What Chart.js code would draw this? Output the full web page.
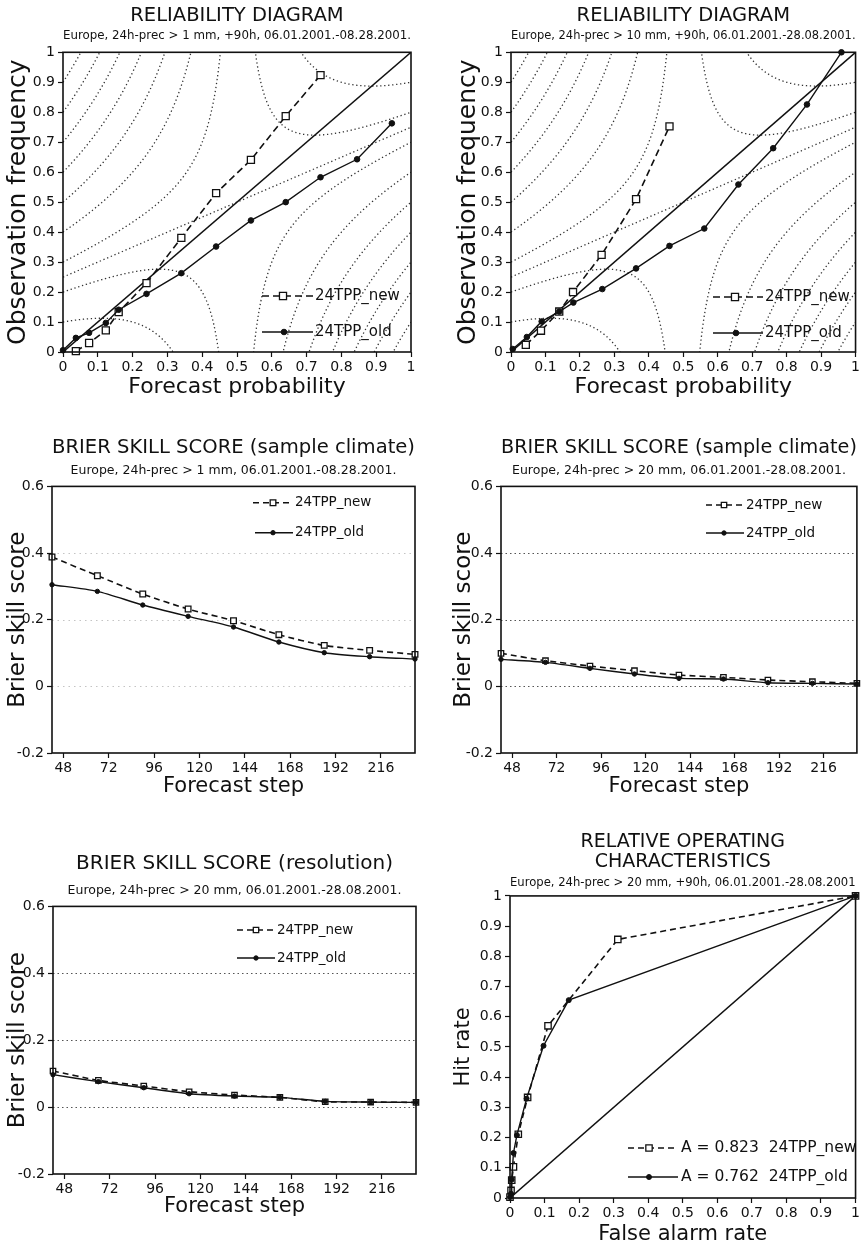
<!DOCTYPE html>
<html><head><meta charset="utf-8">
<script src="https://cdn.jsdelivr.net/npm/chart.js@4.4.1/dist/chart.umd.min.js"></script>
<style>
html,body{margin:0;padding:0;background:#fff;overflow:hidden;}
#wrap{position:relative;width:862px;height:1245px;background:#fff;}
canvas{position:absolute;}
</style></head><body><div id="wrap">
<canvas id="c1" width="431" height="400" style="left:0;top:0"></canvas>
<canvas id="c2" width="431" height="400" style="left:431px;top:0"></canvas>
<canvas id="c3" width="431" height="390" style="left:0;top:415px"></canvas>
<canvas id="c4" width="431" height="390" style="left:431px;top:415px"></canvas>
<canvas id="c5" width="431" height="420" style="left:0;top:825px"></canvas>
<canvas id="c6" width="431" height="420" style="left:431px;top:825px"></canvas>
</div>
<script>
// ---------- DATA ----------
const probTicks = [0,0.1,0.2,0.3,0.4,0.5,0.6,0.7,0.8,0.9,1];
const probTickLabels = ['0','0.1','0.2','0.3','0.4','0.5','0.6','0.7','0.8','0.9','1'];
const diagonal = [0, 1];

// Reliability, > 1 mm
const rel1ProbNew = [0.037,0.075,0.123,0.16,0.24,0.34,0.44,0.54,0.64,0.74];
const rel1FreqNew = [0.003,0.03,0.072,0.133,0.23,0.381,0.53,0.641,0.787,0.924];
const rel1ProbOld = [0,0.037,0.075,0.123,0.16,0.24,0.34,0.44,0.54,0.64,0.74,0.845,0.945];
const rel1FreqOld = [0.006,0.047,0.064,0.097,0.141,0.194,0.263,0.352,0.439,0.5,0.583,0.643,0.763];

// Reliability, > 10 mm
const rel2ProbNew = [0.043,0.087,0.14,0.18,0.263,0.363,0.46];
const rel2FreqNew = [0.024,0.071,0.135,0.2,0.324,0.51,0.753];
const rel2ProbOld = [0.005,0.046,0.089,0.14,0.181,0.265,0.363,0.46,0.561,0.66,0.761,0.859,0.959];
const rel2FreqOld = [0.01,0.05,0.102,0.135,0.165,0.21,0.279,0.354,0.412,0.559,0.68,0.826,1.0];

// reference isopleths of the reliability diagrams
const isoClimate = 0.5;
const isoLevels = [-0.65,-0.55,-0.45,-0.35,-0.25,-0.15,-0.05,0.05,0.15];

// Brier skill score
const forecastSteps = [42,66,90,114,138,162,186,210,234];
const stepTicks = [48,72,96,120,144,168,192,216];
const stepTickLabels = ['48','72','96','120','144','168','192','216'];
const bssTicks = [-0.2,0,0.2,0.4,0.6];
const bssTickLabels = ['-0.2','0','0.2','0.4','0.6'];
const bssGridValues = [0,0.2,0.4];

const bss1New = [0.388,0.332,0.277,0.232,0.197,0.155,0.123,0.108,0.096];
const bss1Old = [0.305,0.285,0.244,0.21,0.178,0.133,0.101,0.089,0.082];
const bss20New = [0.099,0.077,0.061,0.047,0.034,0.027,0.019,0.014,0.009];
const bss20Old = [0.081,0.072,0.054,0.037,0.024,0.022,0.011,0.009,0.007];
const bssResNew = [0.108,0.080,0.063,0.046,0.036,0.029,0.016,0.015,0.014];
const bssResOld = [0.097,0.076,0.058,0.040,0.033,0.029,0.017,0.015,0.014];

// ROC
const rocFarNew = [0,0.003,0.005,0.01,0.024,0.051,0.11,0.312,1];
const rocHitNew = [0.003,0.025,0.059,0.103,0.211,0.333,0.57,0.856,1];
const rocFarOld = [0,0.003,0.005,0.01,0.02,0.048,0.097,0.17,1];
const rocHitOld = [0.003,0.014,0.061,0.149,0.208,0.329,0.504,0.655,1];

const labelNew = '24TPP_new';
const labelOld = '24TPP_old';
const rocLabelNew = 'A = 0.823  24TPP_new';
const rocLabelOld = 'A = 0.762  24TPP_old';

// ---------- HELPERS ----------
Chart.defaults.font.family = "'DejaVu Sans', sans-serif";
Chart.defaults.color = '#000';
const INK = '#111';

const pts = (xs, ys) => xs.map((x, i) => ({x: x, y: ys[i]}));

const framePlugin = {
  id: 'frame',
  afterDatasetsDraw(chart) {
    const {ctx, chartArea: c} = chart;
    ctx.save(); ctx.setLineDash([]); ctx.strokeStyle = INK; ctx.lineWidth = 1.6;
    ctx.strokeRect(c.left, c.top, c.right - c.left, c.bottom - c.top);
    ctx.restore();
  }
};

const hLinesPlugin = {
  id: 'hLines',
  beforeDatasetsDraw(chart, args, o) {
    if (!o || !o.values) return;
    const {ctx, chartArea: c, scales: {y}} = chart;
    ctx.save(); ctx.strokeStyle = o.color; ctx.lineWidth = o.width; ctx.setLineDash(o.dash);
    for (const v of o.values) {
      const py = Math.round(y.getPixelForValue(v)) + 0.5;
      ctx.beginPath(); ctx.moveTo(c.left, py); ctx.lineTo(c.right, py); ctx.stroke();
    }
    ctx.restore();
  }
};

const isoPlugin = {
  id: 'iso',
  beforeDatasetsDraw(chart, args, o) {
    if (!o || !o.levels) return;
    const {ctx, chartArea: a, scales: {x, y}} = chart;
    const c = o.climate;
    ctx.save();
    ctx.beginPath(); ctx.rect(a.left, a.top, a.right - a.left, a.bottom - a.top); ctx.clip();
    ctx.strokeStyle = o.color; ctx.lineWidth = o.width; ctx.setLineDash(o.dash);
    const n = 600;
    for (const g of o.levels) {
      for (const side of [-1, 1]) {
        ctx.beginPath();
        let started = false;
        for (let i = 0; i <= n; i++) {
          const p = side < 0 ? c * i / n : c + (1 - c) * i / n;
          if (Math.abs(p - c) < 1e-9) { started = false; continue; }
          const ob = (p + c) / 2 + g / (2 * (p - c));
          if (ob < -0.3 || ob > 1.3) { started = false; continue; }
          const px = x.getPixelForValue(p), py = y.getPixelForValue(ob);
          if (!started) { ctx.moveTo(px, py); started = true; } else ctx.lineTo(px, py);
        }
        ctx.stroke();
      }
    }
    // no-skill line
    ctx.beginPath();
    ctx.moveTo(x.getPixelForValue(0), y.getPixelForValue(c / 2));
    ctx.lineTo(x.getPixelForValue(1), y.getPixelForValue((1 + c) / 2));
    ctx.stroke();
    ctx.restore();
  }
};

function drawMarker(ctx, ds, x, y) {
  ctx.save(); ctx.setLineDash([]);
  ctx.fillStyle = ds.pointBackgroundColor; ctx.strokeStyle = ds.pointBorderColor;
  ctx.lineWidth = ds.pointBorderWidth;
  const r = ds.pointRadius;
  ctx.beginPath();
  if (ds.pointStyle === 'rect') { const s = r * Math.SQRT1_2; ctx.rect(x - s, y - s, 2 * s, 2 * s); }
  else ctx.arc(x, y, r, 0, Math.PI * 2);
  ctx.fill(); ctx.stroke();
  ctx.restore();
}

const legendPlugin = {
  id: 'innerLegend',
  afterDatasetsDraw(chart, args, o) {
    if (!o || !o.items) return;
    const ctx = chart.ctx;
    ctx.save();
    for (const it of o.items) {
      const ds = chart.data.datasets[it.ds];
      ctx.strokeStyle = ds.borderColor; ctx.lineWidth = ds.borderWidth;
      ctx.setLineDash(ds.borderDash || []);
      ctx.beginPath(); ctx.moveTo(it.x0, it.y); ctx.lineTo(it.x1, it.y); ctx.stroke();
      drawMarker(ctx, ds, it.xm, it.y);
      ctx.setLineDash([]);
      ctx.fillStyle = INK; ctx.font = o.font; ctx.textBaseline = 'middle'; ctx.textAlign = 'left';
      ctx.fillText(ds.label, it.tx, it.y);
    }
    ctx.restore();
  }
};

function xAxis(o) {
  return {
    type: 'linear', position: 'bottom', min: o.min, max: o.max,
    afterBuildTicks: s => { s.ticks = o.values.map(v => ({value: v})); },
    afterFit: s => { s.height = o.height; },
    ticks: {autoSkip: false, maxRotation: 0, minRotation: 0, padding: 2, font: {size: 14}, color: INK,
      callback: (v, i) => o.labels[i]},
    grid: {drawOnChartArea: false, drawTicks: true, tickLength: 5, tickColor: INK, tickWidth: 1.2},
    border: {display: false},
    title: {display: true, text: o.title, color: INK,
      font: {size: o.titleSize, lineHeight: o.titleLH || 1.2}, padding: {top: 0, bottom: o.titlePad}}
  };
}
function yAxis(o) {
  return {
    type: 'linear', position: 'left', min: o.min, max: o.max,
    afterBuildTicks: s => { s.ticks = o.values.map(v => ({value: v})); },
    afterFit: s => { s.width = o.width; },
    ticks: {autoSkip: false, padding: 3, font: {size: 14}, color: INK,
      callback: (v, i) => o.labels[i]},
    grid: {drawOnChartArea: false, drawTicks: true, tickLength: 5, tickColor: INK, tickWidth: 1.2},
    border: {display: false},
    title: {display: true, text: o.title, color: INK,
      font: {size: o.titleSize, lineHeight: 1.2}, padding: {top: o.titlePad, bottom: 0}}
  };
}

function newDs(label, data, o) {
  return {label: label, data: data, showLine: true, borderColor: INK, borderWidth: o.lw || 1.6,
    borderDash: o.dash || [7, 4], pointStyle: 'rect', pointRadius: o.r, pointHoverRadius: o.r,
    pointBackgroundColor: '#fff', pointBorderColor: INK, pointBorderWidth: 1.3,
    tension: o.tension || 0, fill: false, clip: 6, order: 1};
}
function oldDs(label, data, o) {
  return {label: label, data: data, showLine: true, borderColor: INK, borderWidth: o.lw || 1.4,
    borderDash: [], pointStyle: 'circle', pointRadius: o.r, pointHoverRadius: o.r,
    pointBackgroundColor: INK, pointBorderColor: INK, pointBorderWidth: 1,
    tension: o.tension || 0, fill: false, clip: 6, order: 0};
}
function diagDs() {
  return {label: 'diag', data: pts(diagonal, diagonal), showLine: true, borderColor: INK,
    borderWidth: 1.5, pointRadius: 0, pointHoverRadius: 0, fill: false, order: 2};
}

function titleOpts(text, size, pt, pb, lh) {
  return {display: true, text: text, color: INK, fullSize: false,
    font: {size: size, weight: 'normal', lineHeight: lh || 1.2}, padding: {top: pt, bottom: pb}};
}
function subOpts(text, pt, pb) {
  return {display: true, text: text, color: INK, fullSize: false,
    font: {size: 12.5, lineHeight: 1.2}, padding: {top: pt, bottom: pb}};
}

function make(id, cfg) {
  return new Chart(document.getElementById(id), {
    type: 'scatter',
    data: {datasets: cfg.datasets},
    options: {
      responsive: false, animation: false, devicePixelRatio: 1,
      layout: {padding: cfg.padding},
      scales: {x: cfg.x, y: cfg.y},
      plugins: {
        legend: {display: false}, tooltip: {enabled: false},
        title: cfg.title, subtitle: cfg.subtitle,
        iso: cfg.iso || {}, hLines: cfg.hLines || {}, innerLegend: cfg.legend
      }
    },
    plugins: [isoPlugin, hLinesPlugin, framePlugin, legendPlugin]
  });
}

const isoCfg = {levels: isoLevels, climate: isoClimate, color: '#333', width: 1.3, dash: [1.3, 2.7]};

// ---------- PANEL 1 ----------
make('c1', {
  padding: {left: 0, right: 20, top: 0, bottom: 0},
  title: titleOpts('RELIABILITY DIAGRAM', 19.5, 4.5, 0.2),
  subtitle: subOpts('Europe, 24h-prec > 1 mm, +90h, 06.01.2001.-08.28.2001.', 0, 9.2),
  x: xAxis({min: 0, max: 1, values: probTicks, labels: probTickLabels, height: 48,
    title: 'Forecast probability', titleSize: 22, titlePad: 0}),
  y: yAxis({min: 0, max: 1, values: probTicks, labels: probTickLabels, width: 63,
    title: 'Observation frequency', titleSize: 25, titlePad: 3}),
  iso: isoCfg,
  datasets: [diagDs(),
    newDs(labelNew, pts(rel1ProbNew, rel1FreqNew), {r: 5, dash: [7, 4]}),
    oldDs(labelOld, pts(rel1ProbOld, rel1FreqOld), {r: 2.8})],
  legend: {font: '15px "DejaVu Sans"', items: [
    {ds: 1, y: 296, x0: 262, x1: 313, xm: 283, tx: 315},
    {ds: 2, y: 332, x0: 262, x1: 313, xm: 284, tx: 315}]}
});

// ---------- PANEL 2 ----------
make('c2', {
  padding: {left: 0, right: 5, top: 0, bottom: 0},
  title: titleOpts('RELIABILITY DIAGRAM', 19.5, 4.5, 0.2),
  subtitle: subOpts('Europe, 24h-prec > 10 mm, +90h, 06.01.2001.-28.08.2001.', 0, 9.2),
  x: xAxis({min: 0, max: 1, values: probTicks, labels: probTickLabels, height: 48,
    title: 'Forecast probability', titleSize: 22, titlePad: 0}),
  y: yAxis({min: 0, max: 1, values: probTicks, labels: probTickLabels, width: 80,
    title: 'Observation frequency', titleSize: 25, titlePad: 22}),
  iso: isoCfg,
  datasets: [diagDs(),
    newDs(labelNew, pts(rel2ProbNew, rel2FreqNew), {r: 5, dash: [7, 4]}),
    oldDs(labelOld, pts(rel2ProbOld, rel2FreqOld), {r: 2.8})],
  legend: {font: '15px "DejaVu Sans"', items: [
    {ds: 1, y: 297, x0: 282, x1: 332, xm: 304, tx: 334},
    {ds: 2, y: 333, x0: 282, x1: 332, xm: 305, tx: 334}]}
});

// ---------- PANEL 3 ----------
make('c3', {
  padding: {left: 0, right: 16, top: 0, bottom: 0},
  title: titleOpts('BRIER SKILL SCORE (sample climate)', 20, 20.5, 3.7),
  subtitle: subOpts('Europe, 24h-prec > 1 mm, 06.01.2001.-08.28.2001.', 0, 8.2),
  x: xAxis({min: 42, max: 234, values: stepTicks, labels: stepTickLabels, height: 52,
    title: 'Forecast step', titleSize: 21, titlePad: 5.4}),
  y: yAxis({min: -0.2, max: 0.6, values: bssTicks, labels: bssTickLabels, width: 52,
    title: 'Brier skill score', titleSize: 23, titlePad: 4.2}),
  hLines: {values: bssGridValues, color: '#c4c4c4', width: 1.2, dash: [1.5, 4]},
  datasets: [
    newDs(labelNew, pts(forecastSteps, bss1New), {r: 4, dash: [6, 4], tension: 0.25}),
    oldDs(labelOld, pts(forecastSteps, bss1Old), {r: 2.2, tension: 0.25})],
  legend: {font: '13.5px "DejaVu Sans"', items: [
    {ds: 0, y: 87.7, x0: 253, x1: 293, xm: 273, tx: 295},
    {ds: 1, y: 117.7, x0: 255, x1: 293, xm: 273, tx: 295}]}
});

// ---------- PANEL 4 ----------
make('c4', {
  padding: {left: 0, right: 2, top: 0, bottom: 0},
  title: titleOpts('BRIER SKILL SCORE (sample climate)', 20, 20.5, 3.7),
  subtitle: subOpts('Europe, 24h-prec > 20 mm, 06.01.2001.-28.08.2001.', 0, 8.2),
  x: xAxis({min: 42, max: 234, values: stepTicks, labels: stepTickLabels, height: 52,
    title: 'Forecast step', titleSize: 21, titlePad: 5.4}),
  y: yAxis({min: -0.2, max: 0.6, values: bssTicks, labels: bssTickLabels, width: 70,
    title: 'Brier skill score', titleSize: 23, titlePad: 19.2}),
  hLines: {values: bssGridValues, color: '#555', width: 1.2, dash: [1.5, 3]},
  datasets: [
    newDs(labelNew, pts(forecastSteps, bss20New), {r: 3.8, dash: [6, 4], tension: 0.2}),
    oldDs(labelOld, pts(forecastSteps, bss20Old), {r: 2.2, tension: 0.2})],
  legend: {font: '13.5px "DejaVu Sans"', items: [
    {ds: 0, y: 90, x0: 275, x1: 313, xm: 293, tx: 315},
    {ds: 1, y: 118, x0: 275, x1: 313, xm: 293, tx: 315}]}
});

// ---------- PANEL 5 ----------
make('c5', {
  padding: {left: 0, right: 15, top: 0, bottom: 0},
  title: titleOpts('BRIER SKILL SCORE (resolution)', 20, 26.5, 7.7),
  subtitle: subOpts('Europe, 24h-prec > 20 mm, 06.01.2001.-28.08.2001.', 0, 8.2),
  x: xAxis({min: 42, max: 234, values: stepTicks, labels: stepTickLabels, height: 71,
    title: 'Forecast step', titleSize: 21, titlePad: 25.4}),
  y: yAxis({min: -0.2, max: 0.6, values: bssTicks, labels: bssTickLabels, width: 53,
    title: 'Brier skill score', titleSize: 23, titlePad: 4.2}),
  hLines: {values: bssGridValues, color: '#555', width: 1.2, dash: [1.5, 3]},
  datasets: [
    newDs(labelNew, pts(forecastSteps, bssResNew), {r: 3.8, dash: [6, 4], tension: 0.2}),
    oldDs(labelOld, pts(forecastSteps, bssResOld), {r: 2.2, tension: 0.2})],
  legend: {font: '13.5px "DejaVu Sans"', items: [
    {ds: 0, y: 105, x0: 237, x1: 275, xm: 256, tx: 277},
    {ds: 1, y: 133, x0: 237, x1: 275, xm: 256, tx: 277}]}
});

// ---------- PANEL 6 ----------
make('c6', {
  padding: {left: 0, right: 4, top: 0, bottom: 0},
  title: titleOpts(['RELATIVE OPERATING', 'CHARACTERISTICS'], 19, 7.1, 3.8, 1.04),
  subtitle: subOpts('Europe, 24h-prec > 20 mm, +90h, 06.01.2001.-28.08.2001', 0, 5.5),
  x: xAxis({min: 0, max: 1, values: probTicks, labels: probTickLabels, height: 47,
    title: 'False alarm rate', titleSize: 21, titlePad: 0, titleLH: 1.0}),
  y: yAxis({min: 0, max: 1, values: probTicks, labels: probTickLabels, width: 79,
    title: 'Hit rate', titleSize: 21, titlePad: 20.4}),
  datasets: [diagDs(),
    newDs(rocLabelNew, pts(rocFarNew, rocHitNew), {r: 4.5, dash: [6, 4]}),
    oldDs(rocLabelOld, pts(rocFarOld, rocHitOld), {r: 2.5})],
  legend: {font: '15.5px "DejaVu Sans"', items: [
    {ds: 1, y: 323, x0: 197, x1: 247, xm: 218, tx: 250},
    {ds: 2, y: 352, x0: 197, x1: 247, xm: 218, tx: 250}]}
});
</script>
</body></html>
